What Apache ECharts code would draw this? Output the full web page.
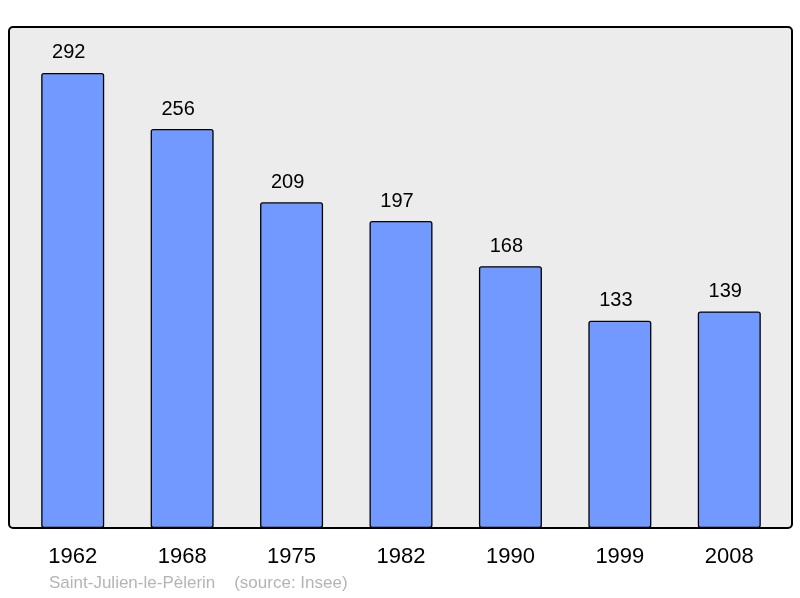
<!DOCTYPE html>
<html>
<head>
<meta charset="utf-8">
<script src="https://cdn.jsdelivr.net/npm/echarts@6/dist/echarts.min.js"></script>
<style>
  html, body { margin: 0; padding: 0; background: #fff; }
  #chart { width: 800px; height: 598px; }
</style>
</head>
<body>
<div id="chart"></div>
<script>
var years = ['1962', '1968', '1975', '1982', '1990', '1999', '2008'];
var population = [292, 256, 209, 197, 168, 133, 139];

var myChart = echarts.init(document.getElementById('chart'));
var option = {
    animation: false,
    textStyle: { fontFamily: 'Liberation Sans, Arial, sans-serif' },
    graphic: [
        {
            type: 'rect',
            z: -10,
            shape: { x: 9, y: 27, width: 783, height: 501, r: 4 },
            style: { fill: '#ececec', stroke: '#000', lineWidth: 2 }
        },
        {
            type: 'text',
            left: 49,
            top: 575,
            style: {
                text: 'Saint-Julien-le-Pèlerin    (source: Insee)',
                fill: '#b4b4b4',
                font: '17px Liberation Sans, Arial, sans-serif'
            }
        }
    ],
    grid: { left: 18, right: 16, top: 27, bottom: 70 },
    xAxis: {
        type: 'category',
        data: years,
        axisLine: { show: false },
        axisTick: { show: false },
        axisLabel: { color: '#000', fontSize: 22, margin: 18 }
    },
    yAxis: {
        type: 'value',
        min: 0,
        max: 321.5,
        show: false,
        splitLine: { show: false }
    },
    series: [{
        type: 'bar',
        data: population,
        barWidth: 63,
        itemStyle: {
            color: '#7299ff',
            borderColor: '#000',
            borderWidth: 1.3,
            borderRadius: 2
        },
        label: {
            show: true,
            position: 'top',
            distance: 10,
            offset: [-4, 0],
            color: '#000',
            fontSize: 20
        }
    }]
};
myChart.setOption(option);
</script>
</body>
</html>
